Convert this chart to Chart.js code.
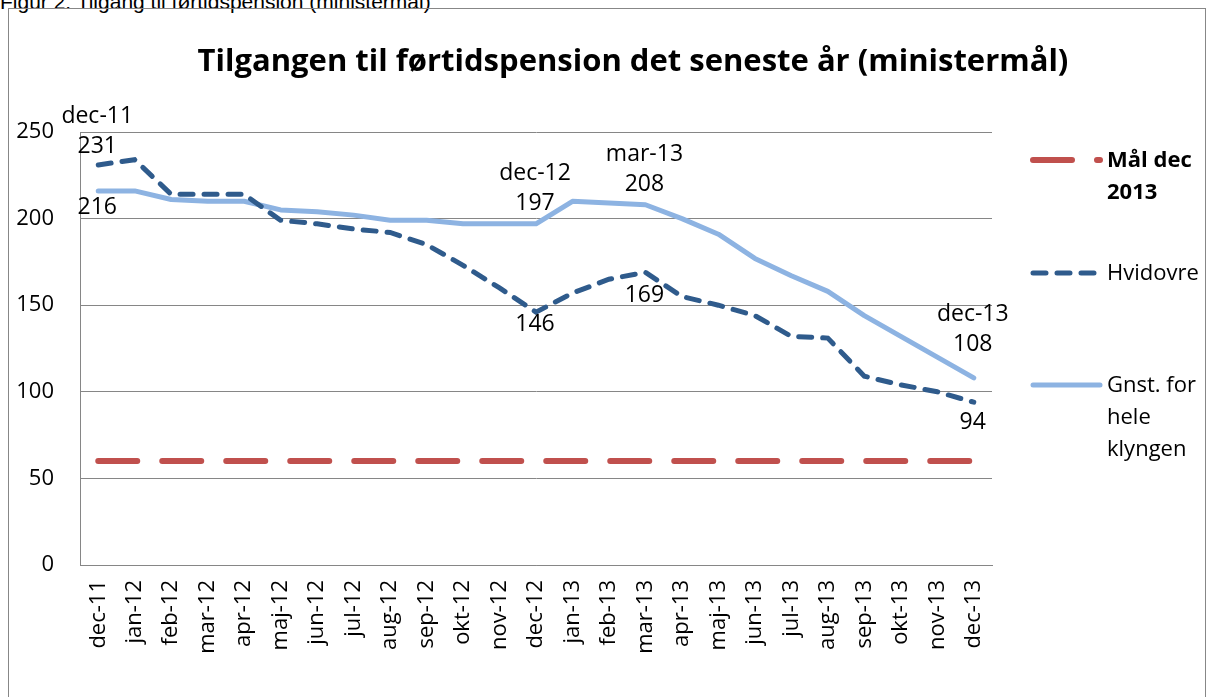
<!DOCTYPE html>
<html>
<head>
<meta charset="utf-8">
<script src="https://cdn.jsdelivr.net/npm/chart.js@4"></script>
<style>
  body { margin: 0; background: #fff; width: 1206px; height: 697px; overflow: hidden; position: relative; }
  #caption { position: absolute; left: 0; top: -9px; font: 21px/21px "Liberation Sans", Arial, sans-serif; color: #000; white-space: nowrap; }
  #frame { position: absolute; left: 8px; top: 8px; width: 1196px; height: 700px; border: 1px solid #878787; }
  #wrap { position: absolute; left: 9px; top: 9px; width: 1195px; height: 688px; }
</style>
</head>
<body>
<div id="caption">Figur 2: Tilgang til førtidspension (ministermål)</div>
<div id="frame"></div>
<div id="wrap"><canvas id="chart"></canvas></div>
<script>
'use strict';

var chartTitle = 'Tilgangen til førtidspension det seneste år (ministermål)';

var months = ['dec-11', 'jan-12', 'feb-12', 'mar-12', 'apr-12', 'maj-12', 'jun-12', 'jul-12', 'aug-12',
  'sep-12', 'okt-12', 'nov-12', 'dec-12', 'jan-13', 'feb-13', 'mar-13', 'apr-13', 'maj-13', 'jun-13',
  'jul-13', 'aug-13', 'sep-13', 'okt-13', 'nov-13', 'dec-13'];

var maal = [60, 60, 60, 60, 60, 60, 60, 60, 60, 60, 60, 60, 60, 60, 60, 60, 60, 60, 60, 60, 60, 60, 60, 60, 60];

var hvidovre = [231, 234, 214, 214, 214, 199, 197, 194, 192, 185, 173, 160, 146, 157, 165, 169, 155, 150, 144,
  132, 131, 109, 104, 100, 94];

var gnst = [216, 216, 211, 210, 210, 205, 204, 202, 199, 199, 197, 197, 197, 210, 209, 208, 200, 191, 177,
  167, 158, 144, 132, 120, 108];

var yTicks = [0, 50, 100, 150, 200, 250];

// which points get a value label (dataset index, point index, offset, show month)
var pointLabels = [
  { ds: 1, i: 0, dy: -18, month: true },
  { ds: 2, i: 0, dy: 17, month: false },
  { ds: 2, i: 12, dy: -20, month: true },
  { ds: 1, i: 12, dy: 12, month: false },
  { ds: 2, i: 15, dy: -20, month: true },
  { ds: 1, i: 15, dy: 23, month: false },
  { ds: 2, i: 24, dy: -33, month: true },
  { ds: 1, i: 24, dy: 20, month: false }
];

var FONT = '"Open Sans", "Noto Sans", sans-serif';

var titlePlugin = {
  id: 'bigTitle',
  afterDraw: function (chart) {
    var ctx = chart.ctx;
    ctx.save();
    ctx.font = 'bold 31px ' + FONT;
    ctx.fillStyle = '#000';
    ctx.textAlign = 'center';
    ctx.textBaseline = 'middle';
    ctx.fillText(chartTitle, 624, 53);
    ctx.restore();
  }
};

var labelPlugin = {
  id: 'pointLabels',
  afterDatasetsDraw: function (chart) {
    var ctx = chart.ctx;
    ctx.save();
    ctx.font = '23px ' + FONT;
    ctx.fillStyle = '#000';
    ctx.textAlign = 'center';
    ctx.textBaseline = 'middle';
    pointLabels.forEach(function (p) {
      var pt = chart.getDatasetMeta(p.ds).data[p.i];
      var val = chart.data.datasets[p.ds].data[p.i];
      ctx.fillText(String(val), pt.x - 1, pt.y + p.dy);
      if (p.month) {
        ctx.fillText(chart.data.labels[p.i], pt.x - 1, pt.y + p.dy - 30);
      }
    });
    ctx.restore();
  }
};

var legendPlugin = {
  id: 'sideLegend',
  afterDraw: function (chart) {
    var ctx = chart.ctx;
    var x0 = 1021, x1 = 1091, tx = 1098;
    var items = [
      { ds: 0, y: 151, lines: ['Mål dec', '2013'], bold: true },
      { ds: 1, y: 264, lines: ['Hvidovre'], bold: false },
      { ds: 2, y: 376, lines: ['Gnst. for', 'hele', 'klyngen'], bold: false }
    ];
    ctx.save();
    items.forEach(function (it) {
      var d = chart.data.datasets[it.ds];
      ctx.beginPath();
      ctx.strokeStyle = d.borderColor;
      ctx.lineWidth = d.borderWidth;
      ctx.lineCap = d.borderCapStyle || 'butt';
      ctx.setLineDash(d.borderDash || []);
      ctx.moveTo(x0 + 3, it.y);
      ctx.lineTo(x1, it.y);
      ctx.stroke();
      ctx.setLineDash([]);
      ctx.fillStyle = '#000';
      ctx.textAlign = 'left';
      ctx.textBaseline = 'middle';
      ctx.font = (it.bold ? 'bold ' : '') + '22px ' + FONT;
      it.lines.forEach(function (t, k) {
        ctx.fillText(t, tx, it.y + 1 + k * 32);
      });
    });
    ctx.restore();
  }
};

new Chart(document.getElementById('chart'), {
  type: 'line',
  data: {
    labels: months,
    datasets: [{
      label: 'Mål dec 2013',
      data: maal,
      borderColor: '#c0504d',
      borderWidth: 6,
      borderDash: [39, 25],
      borderCapStyle: 'round',
      pointRadius: 0,
      tension: 0
    }, {
      label: 'Hvidovre',
      data: hvidovre,
      borderColor: '#2f5b8c',
      borderWidth: 5,
      borderDash: [13, 11],
      borderCapStyle: 'round',
      pointRadius: 0,
      tension: 0
    }, {
      label: 'Gnst. for hele klyngen',
      data: gnst,
      borderColor: '#8db3e2',
      borderWidth: 5,
      borderCapStyle: 'round',
      borderJoinStyle: 'round',
      pointRadius: 0,
      tension: 0
    }]
  },
  options: {
    responsive: true,
    maintainAspectRatio: false,
    animation: false,
    layout: { padding: { left: 0, right: 212, top: 123, bottom: 0 } },
    plugins: {
      legend: { display: false },
      tooltip: { enabled: false },
      title: { display: false }
    },
    scales: {
      x: {
        offset: true,
        grid: { display: false, drawTicks: false },
        border: { display: true, color: '#868686', width: 1 },
        ticks: {
          color: '#000',
          font: { family: FONT, size: 22 },
          maxRotation: 90,
          minRotation: 90,
          autoSkip: false,
          padding: 15
        },
        afterFit: function (s) { s.height = 132; }
      },
      y: {
        min: 0,
        max: 250,
        afterBuildTicks: function (s) { s.ticks = yTicks.map(function (v) { return { value: v }; }); },
        grid: { color: '#868686', lineWidth: 1, drawTicks: false },
        border: { display: true, color: '#868686', width: 1 },
        ticks: {
          color: '#000',
          font: { family: FONT, size: 22 },
          padding: 26
        },
        afterFit: function (s) { s.width = 71; }
      }
    }
  },
  plugins: [titlePlugin, labelPlugin, legendPlugin]
});
</script>
</body>
</html>
